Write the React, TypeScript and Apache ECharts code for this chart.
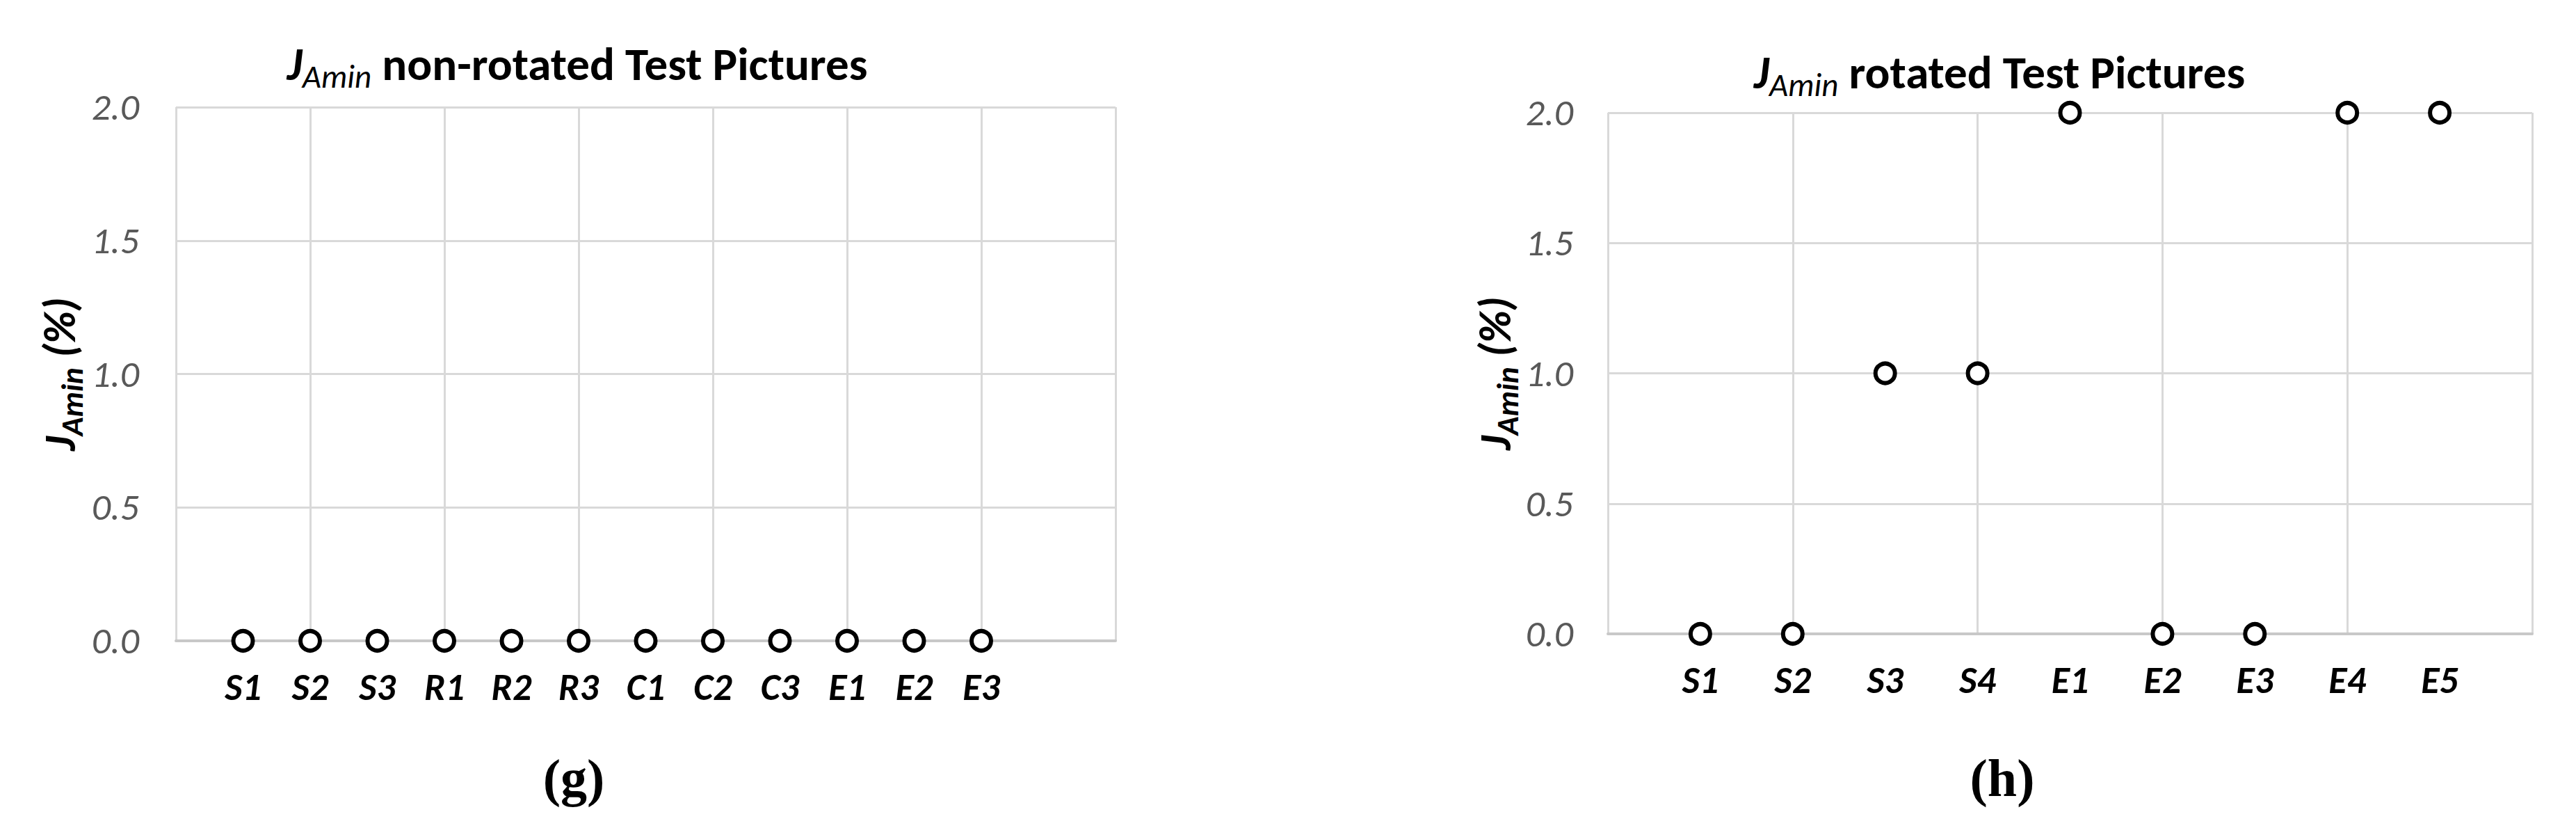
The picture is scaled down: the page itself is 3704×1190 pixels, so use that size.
import React, { useEffect, useRef } from "react";
import * as echarts from "echarts";

// ---- data ----
const leftCategories = ["S1", "S2", "S3", "R1", "R2", "R3", "C1", "C2", "C3", "E1", "E2", "E3"];
const leftValues = [0, 0, 0, 0, 0, 0, 0, 0, 0, 0, 0, 0];
const rightCategories = ["S1", "S2", "S3", "S4", "E1", "E2", "E3", "E4", "E5"];
const rightValues = [0, 0, 1, 1, 2, 0, 0, 2, 2];
const yMin = 0;
const yMax = 2;
const yStep = 0.5;
const leftXMax = 14;
const rightXMax = 10;
const xGridStep = 2;
const leftTitleText = "non-rotated Test Pictures";
const rightTitleText = "rotated Test Pictures";
const symbolName = "J";
const symbolSub = "Amin";
const yAxisUnit = " (%)";
const captions = ["(g)", "(h)"];

const SANS = "'Carlito', 'Open Sans', 'Noto Sans', sans-serif";
const SERIF = "'Liberation Serif', 'DejaVu Serif', serif";
const GRID_COLOR = "#d9d9d9";
const AXIS_COLOR = "#c8c8c8";
const TICK_COLOR = "#595959";

const titleRich = {
  j: { fontFamily: SANS, fontSize: 67, fontWeight: "bold", fontStyle: "italic", lineHeight: 82, color: "#000" },
  s: { fontFamily: SANS, fontSize: 47, fontStyle: "italic", lineHeight: 38, verticalAlign: "bottom", color: "#000" },
  t: { fontFamily: SANS, fontSize: 67, fontWeight: "bold", lineHeight: 82, color: "#000" },
};

const nameRich = {
  j: { fontFamily: SANS, fontSize: 64, fontWeight: "bold", fontStyle: "italic", lineHeight: 80, color: "#000" },
  s: { fontFamily: SANS, fontSize: 45, fontWeight: "bold", fontStyle: "italic", lineHeight: 38, verticalAlign: "bottom", color: "#000" },
  t: { fontFamily: SANS, fontSize: 64, fontWeight: "bold", fontStyle: "italic", lineHeight: 80, color: "#000" },
};

function buildXAxes(gridIndex: number, cats: string[], xMax: number) {
  return [
    {
      type: "value",
      gridIndex,
      position: "bottom",
      min: 0,
      max: xMax,
      interval: xGridStep,
      axisLine: { show: true, onZero: false, lineStyle: { color: AXIS_COLOR, width: 4 } },
      axisTick: { show: false },
      axisLabel: { show: false },
      splitLine: { show: true, lineStyle: { color: GRID_COLOR, width: 3 } },
    },
    {
      type: "value",
      gridIndex,
      position: "bottom",
      min: 0,
      max: xMax,
      interval: 1,
      axisLine: { show: false },
      axisTick: { show: false },
      splitLine: { show: false },
      axisLabel: {
        show: true,
        margin: 40,
        fontFamily: SANS,
        fontSize: 54,
        fontWeight: "bold",
        fontStyle: "italic",
        color: "#000",
        formatter: (v: number) => cats[Math.round(v) - 1] ?? "",
      },
    },
  ];
}

function buildYAxis(gridIndex: number, margin: number, nameGap: number) {
  return {
    type: "value",
    gridIndex,
    min: yMin,
    max: yMax,
    interval: yStep,
    axisLine: { show: false },
    axisTick: { show: false },
    splitLine: { show: true, lineStyle: { color: GRID_COLOR, width: 3 } },
    axisLabel: {
      margin,
      fontFamily: SANS,
      fontSize: 54,
      fontStyle: "italic",
      color: TICK_COLOR,
      formatter: (v: number) => v.toFixed(1),
    },
    name: `{j|${symbolName}}{s|${symbolSub}}{t|${yAxisUnit}}`,
    nameLocation: "middle",
    nameRotate: 90,
    nameGap,
    nameTextStyle: { rich: nameRich },
  };
}

function scatterSeries(cats: string[], vals: number[], idx: number) {
  return {
    type: "scatter",
    xAxisIndex: idx * 2,
    yAxisIndex: idx,
    clip: false,
    symbol: "circle",
    symbolSize: 28,
    itemStyle: { color: "#ffffff", borderColor: "#000000", borderWidth: 6, opacity: 1 },
    data: cats.map((c, i) => [i + 1, vals[i]]),
    z: 5,
  };
}

export default function App() {
  const ref = useRef<HTMLDivElement>(null);
  useEffect(() => {
    document.body.style.margin = "0";
    if (!ref.current) return;
    const chart = echarts.init(ref.current, undefined, { renderer: "svg" });
    chart.setOption({
      animation: false,
      backgroundColor: "#ffffff",
      grid: [
        { left: 253, top: 154, width: 1351, height: 767, containLabel: false },
        { left: 2312, top: 162, width: 1329, height: 749, containLabel: false },
      ],
      xAxis: [...buildXAxes(0, leftCategories, leftXMax), ...buildXAxes(1, rightCategories, rightXMax)],
      yAxis: [buildYAxis(0, 53, 127), buildYAxis(1, 50, 120)],
      series: [scatterSeries(leftCategories, leftValues, 0), scatterSeries(rightCategories, rightValues, 1)],
      graphic: [
        {
          type: "text",
          x: 830,
          y: 92,
          style: {
            text: `{j|${symbolName}}{s|${symbolSub}}{t| ${leftTitleText}}`,
            rich: titleRich,
            align: "center",
            verticalAlign: "middle",
          },
        },
        {
          type: "text",
          x: 2875,
          y: 104,
          style: {
            text: `{j|${symbolName}}{s|${symbolSub}}{t| ${rightTitleText}}`,
            rich: titleRich,
            align: "center",
            verticalAlign: "middle",
          },
        },
        {
          type: "text",
          x: 825,
          y: 1118,
          style: {
            text: captions[0],
            font: `bold 76px ${SERIF}`,
            fill: "#000",
            align: "center",
            verticalAlign: "middle",
          },
        },
        {
          type: "text",
          x: 2879,
          y: 1118,
          style: {
            text: captions[1],
            font: `bold 76px ${SERIF}`,
            fill: "#000",
            align: "center",
            verticalAlign: "middle",
          },
        },
      ],
    });
    return () => chart.dispose();
  }, []);
  return <div ref={ref} style={{ width: 3704, height: 1190 }} />;
}
